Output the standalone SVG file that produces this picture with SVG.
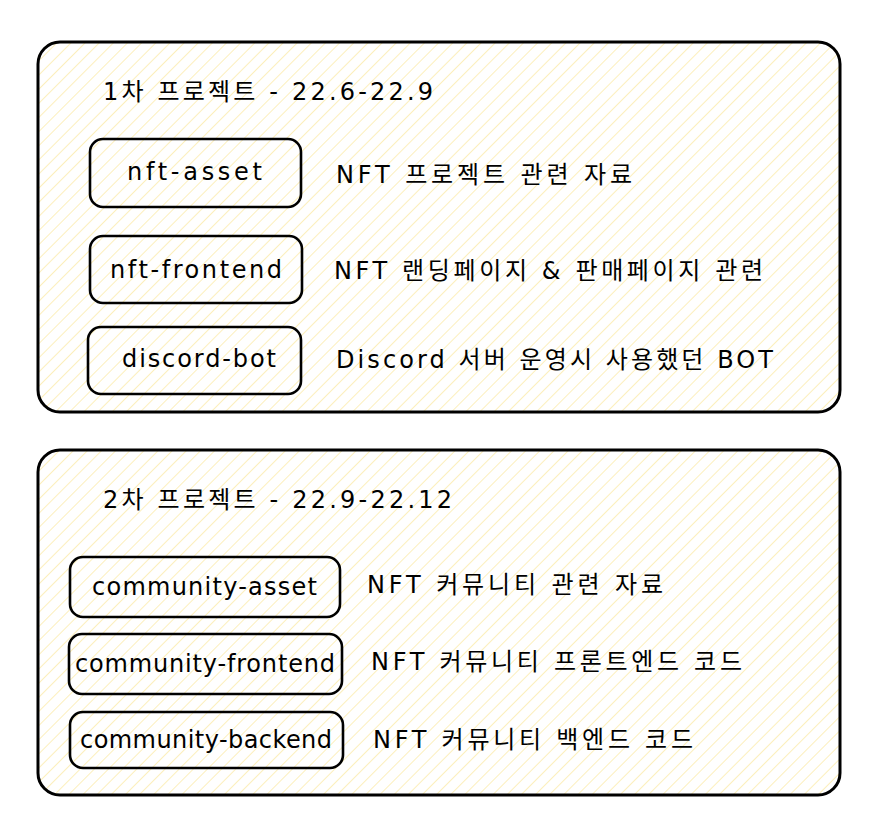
<svg xmlns="http://www.w3.org/2000/svg" width="878" height="834" viewBox="0 0 878 834">
  <defs>
    <pattern id="hatch" patternUnits="userSpaceOnUse" width="10" height="10" patternTransform="rotate(45)">
      <line x1="0" y1="0" x2="0" y2="10" stroke="#fbeaa6" stroke-width="1.5"/>
    </pattern>
  </defs>
  <style>
    .frame { fill: url(#hatch); stroke: #000; stroke-width: 3; }
    .node { fill: none; stroke: #000; stroke-width: 2.6; }
    text { font-family: "DejaVu Sans", "Noto Sans CJK KR", sans-serif; font-size: 24px; fill: #000; }
  </style>
  <rect width="878" height="834" fill="#ffffff"/>

  <g id="group-1">
    <rect class="frame" x="38" y="42" width="802" height="370" rx="22" ry="22"/>
    <text x="103" y="100" textLength="330" lengthAdjust="spacing">1차 프로젝트 - 22.6-22.9</text>
  </g>
  <g id="nft-asset">
    <rect class="node" x="90" y="139" width="211" height="68" rx="13" ry="13"/>
    <text x="127" y="180" textLength="135" lengthAdjust="spacing">nft-asset</text>
  </g>
  <g id="nft-asset-desc">
    <text x="336" y="183" textLength="296" lengthAdjust="spacing">NFT 프로젝트 관련 자료</text>
  </g>
  <g id="nft-frontend">
    <rect class="node" x="90" y="236" width="212" height="67" rx="13" ry="13"/>
    <text x="110" y="278" textLength="172" lengthAdjust="spacing">nft-frontend</text>
  </g>
  <g id="nft-frontend-desc">
    <text x="334" y="279" textLength="429" lengthAdjust="spacing">NFT 랜딩페이지 &amp; 판매페이지 관련</text>
  </g>
  <g id="discord-bot">
    <rect class="node" x="88" y="327" width="213" height="67" rx="13" ry="13"/>
    <text x="122" y="367" textLength="154" lengthAdjust="spacing">discord-bot</text>
  </g>
  <g id="discord-bot-desc">
    <text x="336" y="368" textLength="437" lengthAdjust="spacing">Discord 서버 운영시 사용했던 BOT</text>
  </g>

  <g id="group-2">
    <rect class="frame" x="38" y="450" width="802" height="345" rx="22" ry="22"/>
    <text x="103" y="508" textLength="349" lengthAdjust="spacing">2차 프로젝트 - 22.9-22.12</text>
  </g>
  <g id="community-asset">
    <rect class="node" x="70" y="557" width="270" height="60" rx="13" ry="13"/>
    <text x="92" y="595" textLength="225" lengthAdjust="spacing">community-asset</text>
  </g>
  <g id="community-asset-desc">
    <text x="367" y="593" textLength="296" lengthAdjust="spacing">NFT 커뮤니티 관련 자료</text>
  </g>
  <g id="community-frontend">
    <rect class="node" x="69" y="634" width="273" height="60" rx="13" ry="13"/>
    <text x="75" y="672" textLength="260" lengthAdjust="spacing">community-frontend</text>
  </g>
  <g id="community-frontend-desc">
    <text x="371" y="670" textLength="371" lengthAdjust="spacing">NFT 커뮤니티 프론트엔드 코드</text>
  </g>
  <g id="community-backend">
    <rect class="node" x="70" y="712" width="273" height="56" rx="13" ry="13"/>
    <text x="80" y="748" textLength="252" lengthAdjust="spacing">community-backend</text>
  </g>
  <g id="community-backend-desc">
    <text x="373" y="748" textLength="320" lengthAdjust="spacing">NFT 커뮤니티 백엔드 코드</text>
  </g>

  <g id="connectors"></g>
</svg>
